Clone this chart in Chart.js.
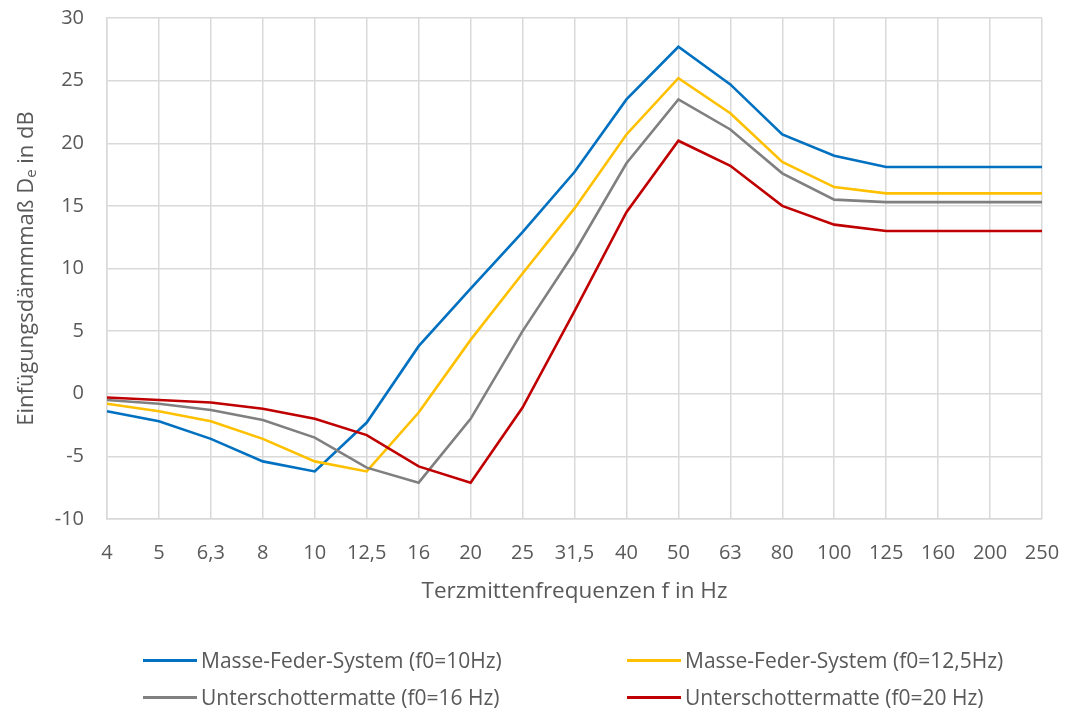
<!DOCTYPE html>
<html>
<head>
<meta charset="utf-8">
<script src="https://cdn.jsdelivr.net/npm/chart.js@4.4.1/dist/chart.umd.min.js"></script>
<style>
  body { margin: 0; background: #fff; }
  #wrap { position: relative; width: 1067px; height: 713px; }
  #legend { position: absolute; left: 0; top: 0; width: 1067px; height: 713px; pointer-events: none; }
  .item { position: absolute; display: flex; align-items: center; font: 400 21px "Open Sans", sans-serif; color: #595959; white-space: nowrap; }
  .swatch { width: 54px; height: 3px; margin-right: 4px; }
</style>
</head>
<body>
<div id="wrap">
  <canvas id="chart" width="1067" height="713"></canvas>
  <div id="legend"></div>
</div>
<script>
const frequencies = ["4", "5", "6,3", "8", "10", "12,5", "16", "20", "25", "31,5", "40", "50", "63", "80", "100", "125", "160", "200", "250"];

const seriesNames = [
  "Masse-Feder-System (f0=10Hz)",
  "Masse-Feder-System (f0=12,5Hz)",
  "Unterschottermatte (f0=16 Hz)",
  "Unterschottermatte (f0=20 Hz)",
];

const mfs10 = [-1.4, -2.2, -3.6, -5.4, -6.2, -2.3, 3.8, 8.4, 12.9, 17.7, 23.5, 27.7, 24.7, 20.7, 19.0, 18.1, 18.1, 18.1, 18.1];
const mfs125 = [-0.8, -1.4, -2.2, -3.6, -5.4, -6.2, -1.5, 4.3, 9.6, 14.8, 20.7, 25.2, 22.4, 18.5, 16.5, 16.0, 16.0, 16.0, 16.0];
const usm16 = [-0.5, -0.8, -1.3, -2.1, -3.5, -5.9, -7.1, -2.0, 5.0, 11.3, 18.4, 23.5, 21.1, 17.6, 15.5, 15.3, 15.3, 15.3, 15.3];
const usm20 = [-0.3, -0.5, -0.7, -1.2, -2.0, -3.3, -5.8, -7.1, -1.1, 6.6, 14.5, 20.2, 18.2, 15.0, 13.5, 13.0, 13.0, 13.0, 13.0];

const colors = ["#0070C0", "#FFC000", "#808080", "#C00000"];
const textColor = "#595959";
const gridColor = "#D9D9D9";
const fontFamily = '"Open Sans", sans-serif';

// y axis title with subscript "e"
const yTitlePlugin = {
  id: "yTitle",
  afterDraw(chart) {
    const ctx = chart.ctx;
    const area = chart.chartArea;
    const parts = [
      { text: "Einfügungsdämmmaß D", size: 22, dy: 0 },
      { text: "e", size: 15, dy: 5 },
      { text: " in dB", size: 22, dy: 0 },
    ];
    ctx.save();
    let total = 0;
    parts.forEach((p) => {
      ctx.font = "400 " + p.size + "px " + fontFamily;
      p.w = ctx.measureText(p.text).width;
      total += p.w;
    });
    ctx.translate(27, (area.top + area.bottom) / 2);
    ctx.rotate(-Math.PI / 2);
    ctx.fillStyle = textColor;
    ctx.textBaseline = "middle";
    let x = -total / 2;
    parts.forEach((p) => {
      ctx.font = "400 " + p.size + "px " + fontFamily;
      ctx.fillText(p.text, x, p.dy);
      x += p.w;
    });
    ctx.restore();
  },
};

// let layout.padding alone decide where the plot area sits
const noLabelOverflow = (axis) => {
  axis.paddingTop = 0;
  axis.paddingBottom = 0;
  axis.paddingLeft = 0;
  axis.paddingRight = 0;
};

const datasets = [mfs10, mfs125, usm16, usm20].map((values, i) => {
  return {
    label: seriesNames[i],
    data: values,
    borderColor: colors[i],
    backgroundColor: colors[i],
    borderWidth: 2.6,
    pointRadius: 0,
    tension: 0,
    fill: false,
  };
});

const chart = new Chart(document.getElementById("chart").getContext("2d"), {
  type: "line",
  data: {
    labels: frequencies,
    datasets: datasets.slice().reverse(),
  },
  plugins: [yTitlePlugin],
  options: {
    responsive: false,
    animation: false,
    devicePixelRatio: 1,
    layout: {
      padding: { left: 0, right: 25, top: 18, bottom: 103 },
    },
    plugins: {
      legend: { display: false },
      tooltip: { enabled: false },
    },
    scales: {
      x: {
        offset: false,
        grid: { color: gridColor, lineWidth: 1.5, drawTicks: false },
        border: { color: gridColor, width: 1.5 },
        ticks: {
          color: textColor,
          padding: 22,
          maxRotation: 0,
          autoSkip: false,
          font: { family: fontFamily, size: 20, weight: 400 },
        },
        title: {
          display: true,
          text: "Terzmittenfrequenzen f in Hz",
          color: textColor,
          padding: { top: 0, bottom: 5 },
          font: { family: fontFamily, size: 22.5, weight: 400 },
        },
        afterFit: (axis) => {
          noLabelOverflow(axis);
          axis.height = 91;
        },
      },
      y: {
        min: -10,
        max: 30,
        grid: { color: gridColor, lineWidth: 1.5, drawTicks: false },
        border: { color: gridColor, width: 1.5 },
        ticks: {
          stepSize: 5,
          color: textColor,
          padding: 23,
          font: { family: fontFamily, size: 20, weight: 400 },
        },
        afterFit: (axis) => {
          noLabelOverflow(axis);
          axis.width = 107;
        },
      },
    },
  },
});

// legend in two columns below the chart
const legendEl = document.getElementById("legend");
const legendSpots = [
  { left: 143, top: 660 },
  { left: 627, top: 660 },
  { left: 143, top: 697 },
  { left: 627, top: 697 },
];
seriesNames.forEach((name, i) => {
  const item = document.createElement("div");
  item.className = "item";
  item.style.left = legendSpots[i].left + "px";
  item.style.top = legendSpots[i].top - 14 + "px";
  const swatch = document.createElement("span");
  swatch.className = "swatch";
  swatch.style.background = colors[i];
  const label = document.createElement("span");
  label.textContent = name;
  item.appendChild(swatch);
  item.appendChild(label);
  legendEl.appendChild(item);
});
</script>
</body>
</html>
